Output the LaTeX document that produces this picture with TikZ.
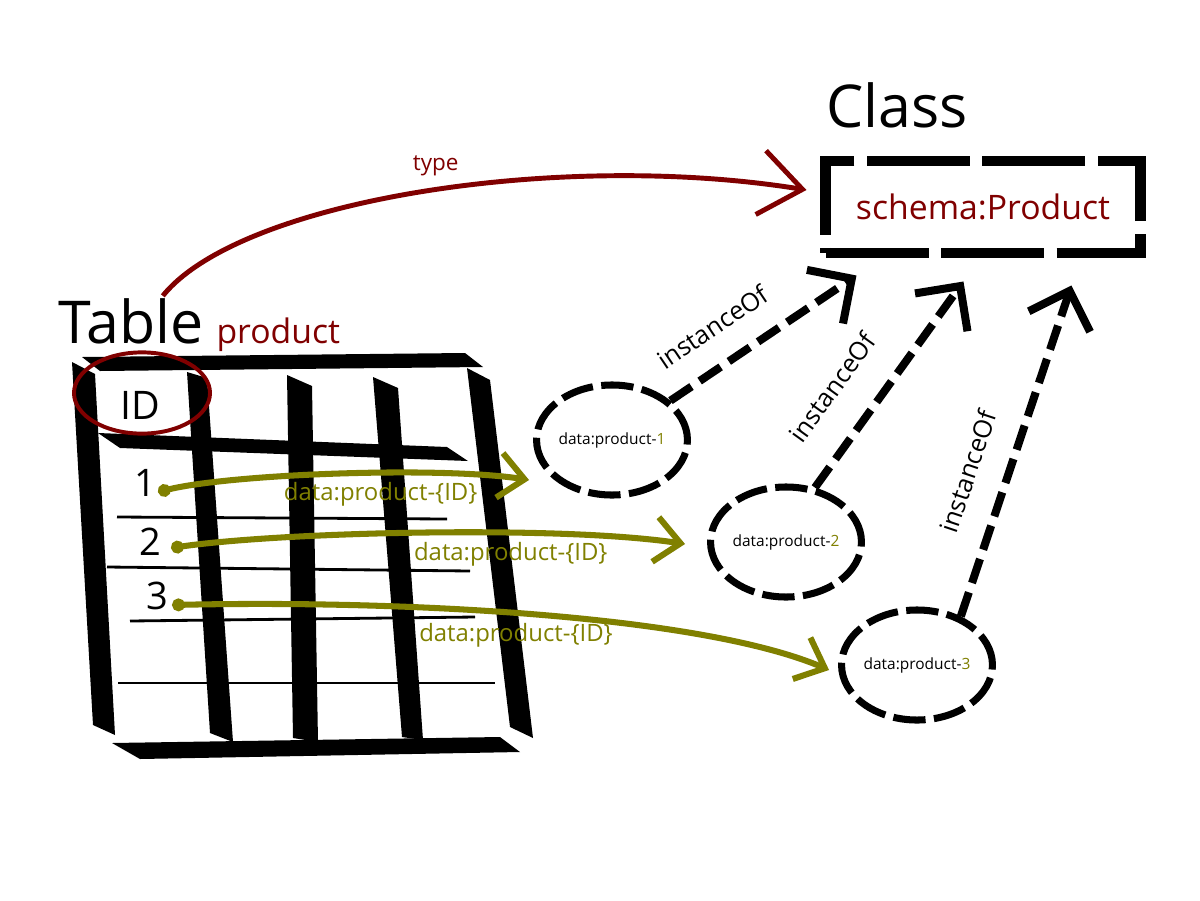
\documentclass[tikz,border=0pt]{standalone}
\usepackage{fontspec}
\setmainfont{Open Sans}
\usepackage{xcolor}
\usetikzlibrary{arrows.meta,positioning,shapes.geometric,calc}
\definecolor{typered}{HTML}{800000}
\definecolor{idolive}{HTML}{808000}
\tikzset{
  bigtext/.style={inner sep=0pt, font=\fontsize{42}{48}\selectfont},
  redtext/.style={inner sep=0pt, text=typered, font=\fontsize{24}{28}\selectfont},
  classbox/.style={draw, line width=7.8pt, dash pattern=on 73pt off 9pt, minimum width=7.85cm, minimum height=2.3cm, text=typered, font=\fontsize{24}{28}\selectfont},
  instnode/.style={ellipse, draw, line width=5pt, dash pattern=on 23pt off 6pt, minimum width=3.5cm, minimum height=2.75cm, inner sep=0pt, font=\fontsize{11}{13}\selectfont},
  idring/.style={ellipse, draw=typered, line width=2.8pt, minimum width=3.4cm, minimum height=2.03cm},
  numtext/.style={inner sep=0pt, font=\fontsize{27}{30}\selectfont},
  bar/.style={fill=black},
  rowline/.style={line width=2pt},
  typearrow/.style={-{Straight Barb[length=30pt,width=46pt]}, line width=3.5pt, draw=typered},
  idarrow/.style={{Circle[length=9pt]}-{Straight Barb[length=18pt,width=32pt]}, line width=4.3pt, draw=idolive},
  isaarrow/.style={-{Straight Barb[length=23pt,width=46pt]}, line width=5.7pt, dash pattern=on 18pt off 7pt},
  typelabel/.style={text=typered, font=\fontsize{16}{18}\selectfont},
  idlabel/.style={text=idolive, font=\fontsize{17}{20}\selectfont},
  isalabel/.style={inner sep=0pt, sloped, font=\fontsize{18}{20}\selectfont}
}

\begin{document}
\begin{tikzpicture}[x=0.025cm, y=-0.025cm]
    \fill[white] (0,0) rectangle (1200,900);
    \useasboundingbox (0,0) rectangle (1200,900);
    % table grid
    \fill[bar] (82,357) -- (465,353) -- (483,367) -- (100,371) -- cycle;
    \fill[bar] (72,362) -- (95,374) -- (115,735) -- (93,725) -- cycle;
    \fill[bar] (187,372) -- (207,378) -- (233,742) -- (210,733) -- cycle;
    \fill[bar] (287,375) -- (312,386) -- (318,742) -- (293,738) -- cycle;
    \fill[bar] (373,377) -- (398,388) -- (423,740) -- (402,737) -- cycle;
    \fill[bar] (467,368) -- (490,380) -- (533,738) -- (510,727) -- cycle;
    \fill[bar] (98,433) -- (447,447) -- (468,461) -- (120,448) -- cycle;
    \fill[bar] (112,743) -- (500,737) -- (520,752) -- (140,759) -- cycle;
    \draw[rowline] (117,517) -- (447,519);
    \draw[rowline] (107,567) -- (470,571);
    \draw[rowline] (130,621) -- (475,617);
    \draw[rowline] (118,683) -- (495,683);

    \node[bigtext, anchor=base west] (tbl) at (58,343) {Table};
    \node[redtext, right=9pt of tbl.base east, anchor=base west] (tblname) {product};
    \node[font=\fontsize{28}{30}\selectfont, inner sep=0pt] (id) at (140,405) {ID};
    \node[idring] (idloop) at (142,393) {};
    \node[numtext] (n1) at (145,483) {1};
    \node[numtext] (n2) at (150,542) {2};
    \node[numtext] (n3) at (157,596) {3};

    \node[classbox] (cls) at (983,207) {schema:Product};
    \node[bigtext, above=20pt of cls.north west, anchor=base west, xshift=4pt] (clsname) {Class};

    \node[instnode] (p1) at (612,440) {data:product-\textcolor{idolive}{1}};
    \node[instnode] (p2) at (786,542) {data:product-\textcolor{idolive}{2}};
    \node[instnode] (p3) at (917,665) {data:product-\textcolor{idolive}{3}};

    \draw[typearrow] ($(tbl.north)+(32,-2)$) .. controls (240,200) and (560,150) .. ($(cls.west)+(-14,-17)$)
      node[typelabel, pos=0.52, above=5pt] {type};

    \draw[idarrow] ($(n1.east)+(2,9)$) .. controls (230,474) and (440,466) .. ($(p1.west)+(-4,40)$)
      node[idlabel, pos=0.6, below=1pt] {data:product-\{ID\}};
    \draw[idarrow] ($(n2.east)+(10,6)$) .. controls (280,532) and (560,525) .. ($(p2.west)+(-22,2)$)
      node[idlabel, pos=0.65, below=1pt] {data:product-\{ID\}};
    \draw[idarrow] ($(n3.east)+(4,9)$) .. controls (400,600) and (700,615) .. ($(p3.west)+(-9,5)$)
      node[idlabel, pos=0.47, below=2pt] {data:product-\{ID\}};

    \draw[isaarrow] (p1) -- ($(cls.south west)+(36,17)$) node[isalabel, pos=0.34, above=17pt] {instanceOf};
    \draw[isaarrow] (p2.62) -- ($(cls.south west)+(143,23)$) node[isalabel, pos=0.36, above=22pt] {instanceOf};
    \draw[isaarrow] (p3.48) -- ($(cls.south west)+(251,27)$) node[isalabel, pos=0.4, above=18pt] {instanceOf};
\end{tikzpicture}
\end{document}
